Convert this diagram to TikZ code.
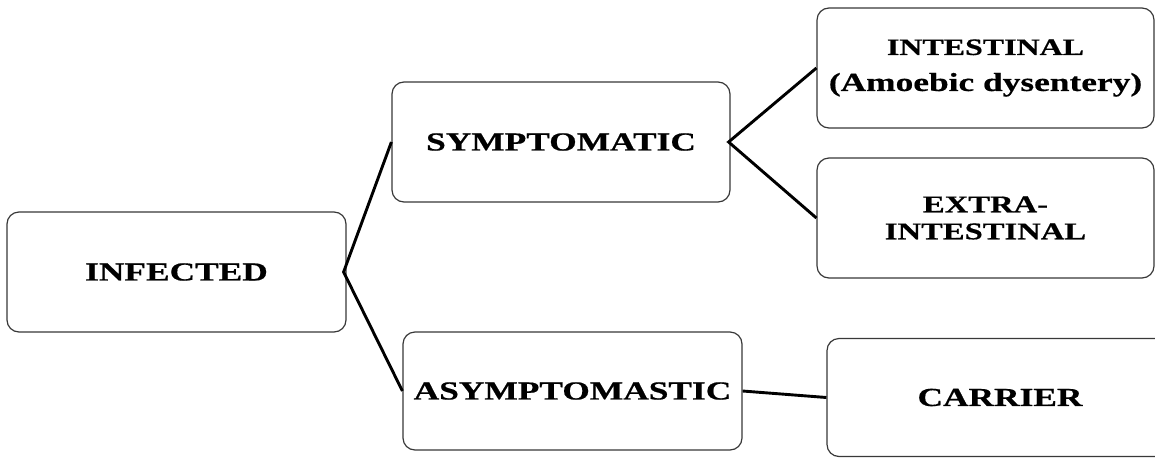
\documentclass[tikz,border=0pt]{standalone}
\usepackage{fontspec}
\newfontfamily\lblfont{Liberation Serif}[FakeStretch=1.36,FakeBold=0.6]
\tikzset{
  box/.style={draw=black!78, line width=1.2pt, rounded corners=12pt, fill=white,
    align=center, inner sep=0pt, font={\lblfont\bfseries\fontsize{26}{35}\selectfont}, text=black},
  link/.style={line width=2.9pt, black, line join=miter}
}
\begin{document}
\begin{tikzpicture}[x=1pt,y=-1pt]
\useasboundingbox (0,0) rectangle (1155,458);
\node[box, minimum width=339pt, minimum height=120pt] (inf) at (176.5,272) {INFECTED};
\node[box, minimum width=338pt, minimum height=120pt] (sym) at (561,142) {SYMPTOMATIC};
\node[box, minimum width=339pt, minimum height=118pt] (asym) at (572.5,391) {ASYMPTOMASTIC};
\node[box, minimum width=337pt, minimum height=120pt] (int) at (985.5,68)
  {{\fontsize{23.5}{35}\selectfont INTESTINAL}\\[1pt](Amoebic dysentery)};
\node[box, minimum width=337pt, minimum height=120pt, font={\lblfont\bfseries\fontsize{24}{27}\selectfont}] (ext) at (985.5,218)
  {EXTRA-\\INTESTINAL};
\node[box, minimum width=346pt, minimum height=118pt] (car) at (1000,397.5) {CARRIER};
\coordinate (v1) at ([xshift=-3pt]inf.east);
\coordinate (v2) at ([xshift=-2pt]sym.east);
\draw[link] (sym.west) -- (v1) -- (asym.west);
\draw[link] (int.west) -- (v2) -- (ext.west);
\draw[link] (asym.east) -- (car.west);
\end{tikzpicture}
\end{document}
